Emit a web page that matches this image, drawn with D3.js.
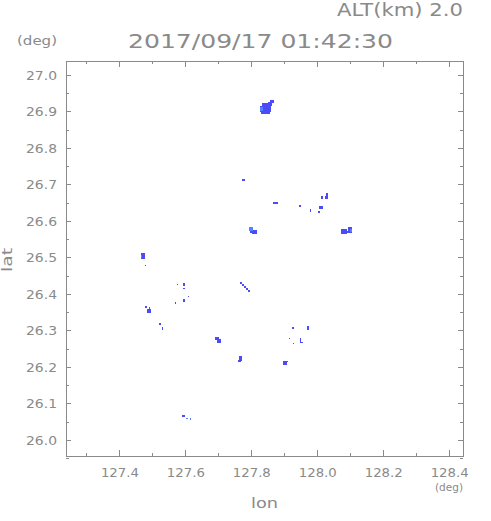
<!DOCTYPE html>
<html>
<head>
<meta charset="utf-8">
<script src="https://cdn.jsdelivr.net/npm/d3@7"></script>
<style>
	body { margin: 0; background: #fff; }
	text { font-family: "DejaVu Sans", sans-serif; fill: #8a8a8a; }
	.frame, .tick line { stroke: #8a8a8a; shape-rendering: crispEdges; }
</style>
</head>
<body>
<div id="chart"></div>
<script>
"use strict";

// axis ticks
const lonTicks = [127.4, 127.6, 127.8, 128.0, 128.2, 128.4];
const lonMinor = [127.3, 127.5, 127.7, 127.9, 128.1, 128.3];
const latTicks = [26.0, 26.1, 26.2, 26.3, 26.4, 26.5, 26.6, 26.7, 26.8, 26.9, 27.0];
const latMinor = [25.95, 26.05, 26.15, 26.25, 26.35, 26.45, 26.55, 26.65, 26.75, 26.85, 26.95];

// echo cells [lonW, latN, lonE, latS]
const echoBlue = [
	[127.832, 26.923, 127.851, 26.915],
	[127.826, 26.915, 127.860, 26.899],
	[127.829, 26.899, 127.857, 26.893],
	[127.851, 26.926, 127.863, 26.915],
	[127.857, 26.932, 127.869, 26.923],
	[127.772, 26.715, 127.781, 26.710],
	[127.866, 26.652, 127.881, 26.647],
	[127.945, 26.644, 127.951, 26.638],
	[127.978, 26.633, 127.981, 26.625],
	[128.002, 26.627, 128.008, 26.622],
	[128.005, 26.641, 128.017, 26.633],
	[128.011, 26.669, 128.017, 26.660],
	[128.026, 26.677, 128.032, 26.669],
	[128.023, 26.669, 128.032, 26.660],
	[127.802, 26.575, 127.817, 26.564],
	[127.796, 26.573, 127.805, 26.567],
	[128.072, 26.578, 128.090, 26.564],
	[128.081, 26.573, 128.096, 26.567],
	[128.093, 26.584, 128.105, 26.567],
	[127.466, 26.512, 127.478, 26.496],
	[127.478, 26.479, 127.481, 26.477],
	[127.575, 26.427, 127.578, 26.425],
	[127.593, 26.430, 127.599, 26.422],
	[127.593, 26.416, 127.599, 26.414],
	[127.608, 26.395, 127.611, 26.392],
	[127.593, 26.386, 127.599, 26.378],
	[127.569, 26.378, 127.572, 26.373],
	[127.478, 26.367, 127.484, 26.362],
	[127.484, 26.359, 127.496, 26.348],
	[127.490, 26.364, 127.493, 26.359],
	[127.520, 26.321, 127.526, 26.315],
	[127.529, 26.310, 127.532, 26.301],
	[127.766, 26.433, 127.772, 26.428],
	[127.772, 26.428, 127.778, 26.422],
	[127.778, 26.422, 127.784, 26.417],
	[127.784, 26.417, 127.790, 26.411],
	[127.790, 26.411, 127.796, 26.406],
	[127.690, 26.282, 127.702, 26.274],
	[127.696, 26.277, 127.708, 26.266],
	[127.763, 26.230, 127.772, 26.216],
	[127.760, 26.219, 127.769, 26.214],
	[127.896, 26.216, 127.908, 26.206],
	[127.908, 26.216, 127.911, 26.214],
	[127.923, 26.310, 127.929, 26.304],
	[127.969, 26.312, 127.975, 26.301],
	[127.914, 26.280, 127.917, 26.277],
	[127.926, 26.266, 127.929, 26.263],
	[127.948, 26.280, 127.951, 26.266],
	[127.948, 26.269, 127.957, 26.266],
	[127.590, 26.069, 127.599, 26.063]
];
const echoLight = [
	[127.826, 26.913, 127.835, 26.902],
	[127.793, 26.584, 127.805, 26.573],
	[128.099, 26.578, 128.105, 26.570],
	[127.466, 26.507, 127.469, 26.499],
	[127.602, 26.060, 127.608, 26.058],
	[127.614, 26.060, 127.617, 26.055]
];

const W = 491, H = 521;
const box = { left: 66, right: 463, top: 61, bottom: 456 };

const x = d3.scaleLinear().domain([127.238, 128.442]).range([box.left, box.right]);
const y = d3.scaleLinear().domain([25.956, 27.038]).range([box.bottom, box.top]);

const svg = d3.select("#chart").append("svg")
	.attr("width", W)
	.attr("height", H);

// echoes
function drawCells(data, color) {
	svg.append("g").selectAll("rect")
		.data(data)
		.enter().append("rect")
		.attr("x", d => Math.round(x(d[0])))
		.attr("y", d => Math.round(y(d[1])))
		.attr("width", d => Math.max(1, Math.round(x(d[2])) - Math.round(x(d[0]))))
		.attr("height", d => Math.max(1, Math.round(y(d[3])) - Math.round(y(d[1]))))
		.attr("fill", color)
		.attr("shape-rendering", "crispEdges");
}
drawCells(echoBlue, "#4b4cf6");
drawCells(echoLight, "#4f86ff");

// inward ticks on all sides
const fmt = d3.format(".1f");
function axis(gen, vals, size, pad, labelLen, tr) {
	const g = svg.append("g")
		.attr("transform", tr)
		.call(gen.tickValues(vals).tickSize(-size).tickPadding(pad).tickFormat(labelLen ? fmt : ""));
	g.select(".domain").remove();
	g.selectAll("text")
		.style("font-size", "13px")
		.attr("fill", "#8a8a8a")
		.attr("textLength", labelLen || null)
		.attr("lengthAdjust", "spacingAndGlyphs");
	return g;
}
axis(d3.axisBottom(x), lonTicks, 6, 12, 38, `translate(0,${box.bottom})`);
axis(d3.axisBottom(x), lonMinor, 3, 0, 0, `translate(0,${box.bottom})`);
axis(d3.axisTop(x), lonTicks, 6, 0, 0, `translate(0,${box.top})`);
axis(d3.axisTop(x), lonMinor, 3, 0, 0, `translate(0,${box.top})`);
axis(d3.axisLeft(y), latTicks, 5, 9, 31, `translate(${box.left},0)`);
axis(d3.axisLeft(y), latMinor, 3, 0, 0, `translate(${box.left},0)`);
axis(d3.axisRight(y), latTicks, 5, 0, 0, `translate(${box.right},0)`);
axis(d3.axisRight(y), latMinor, 3, 0, 0, `translate(${box.right},0)`);

svg.append("rect")
	.attr("class", "frame")
	.attr("x", box.left + 0.5)
	.attr("y", box.top + 0.5)
	.attr("width", box.right - box.left)
	.attr("height", box.bottom - box.top)
	.attr("fill", "none");

// titles
svg.append("text").attr("x", 337).attr("y", 16)
	.attr("textLength", 126).attr("lengthAdjust", "spacingAndGlyphs")
	.style("font-size", "18px").text("ALT(km) 2.0");
svg.append("text").attr("x", 128).attr("y", 48)
	.attr("textLength", 265).attr("lengthAdjust", "spacingAndGlyphs")
	.style("font-size", "19px").text("2017/09/17 01:42:30");
svg.append("text").attr("x", 17).attr("y", 45)
	.attr("textLength", 40).attr("lengthAdjust", "spacingAndGlyphs")
	.style("font-size", "12px").text("(deg)");
svg.append("text").attr("x", 435).attr("y", 491)
	.attr("textLength", 28).attr("lengthAdjust", "spacingAndGlyphs")
	.style("font-size", "11px").text("(deg)");
svg.append("text").attr("x", 251).attr("y", 508)
	.attr("textLength", 27).attr("lengthAdjust", "spacingAndGlyphs")
	.style("font-size", "14px").text("lon");
svg.append("text")
	.attr("transform", "translate(12,260) rotate(-90)")
	.attr("text-anchor", "middle")
	.attr("textLength", 24).attr("lengthAdjust", "spacingAndGlyphs")
	.style("font-size", "14px").text("lat");
</script>
</body>
</html>
